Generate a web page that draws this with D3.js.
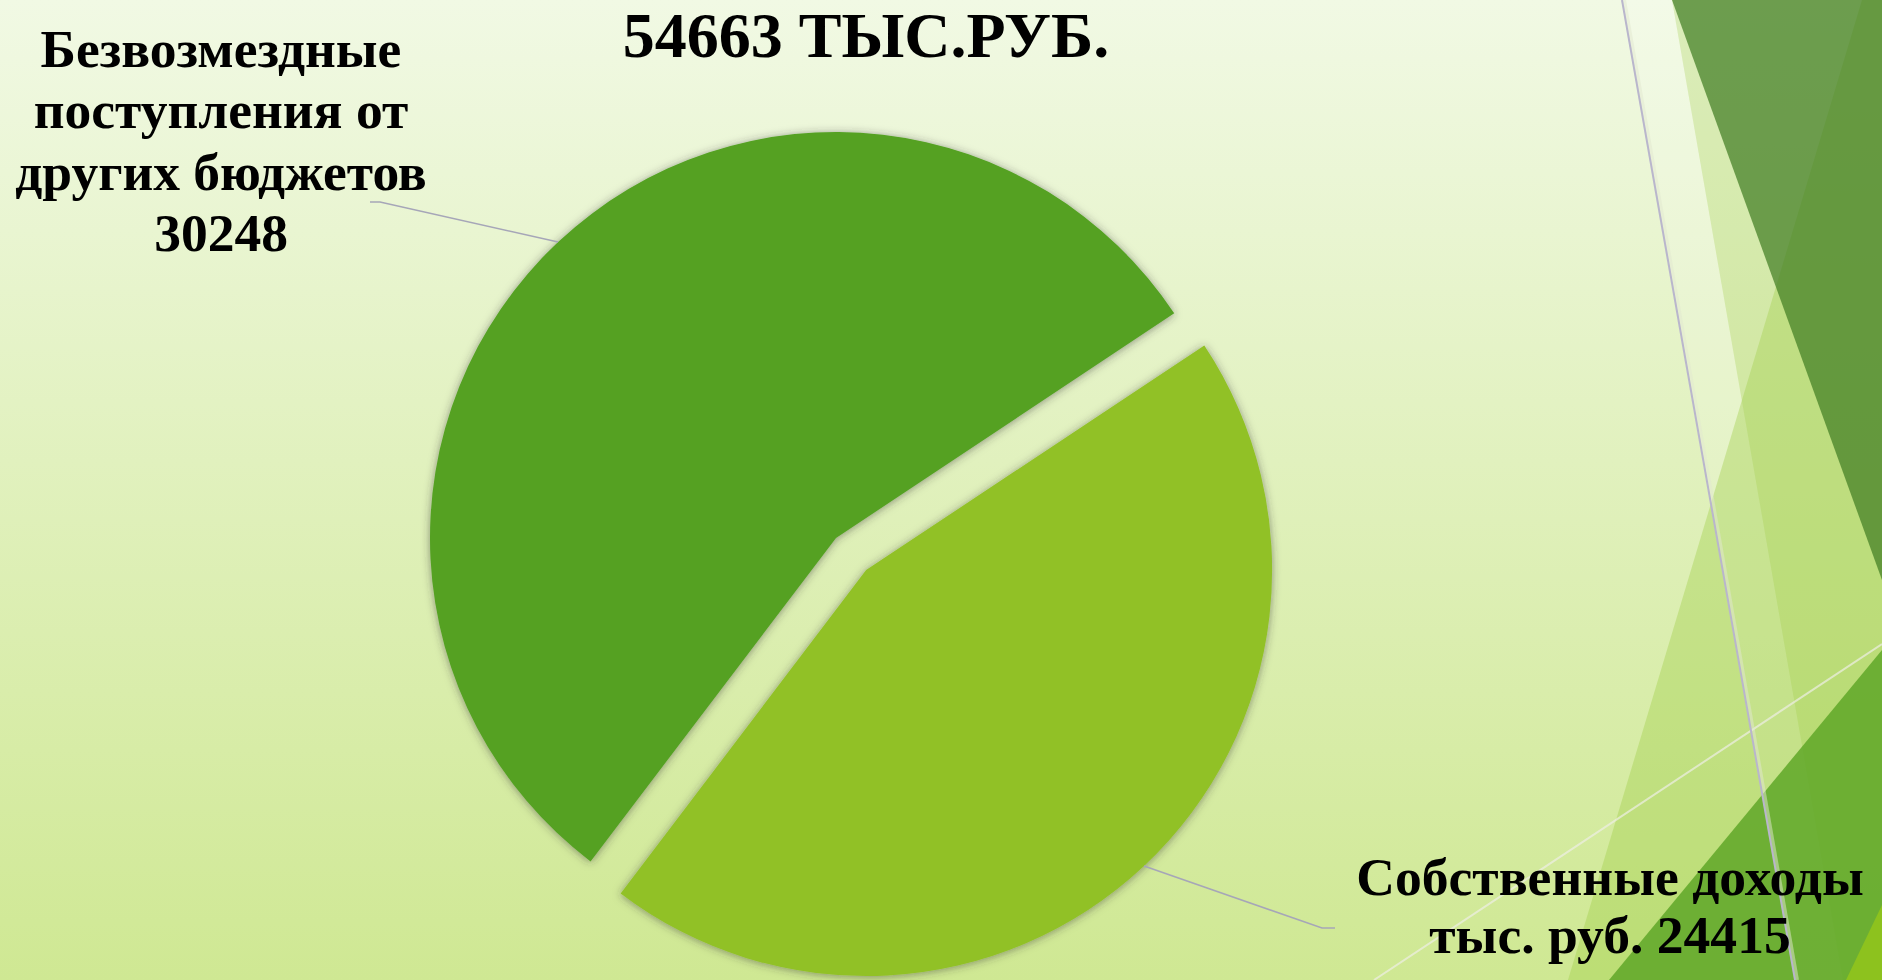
<!DOCTYPE html>
<html>
  <head>
    <meta charset='utf-8' />
    <title>Доходы бюджета</title>
    <style>
      html, body {
        margin: 0;
        padding: 0;
        overflow: hidden;
      }
      #chart text {
        font-family: "Liberation Serif", "Times New Roman", serif;
        font-weight: bold;
        fill: #000;
      }
    </style>
  </head>

<body>
  <svg id="chart" width="1882" height="980"></svg>

  <script src="https://d3js.org/d3.v7.min.js"></script>
  <script>
    // data
    const categories = ["Безвозмездные поступления от других бюджетов", "Собственные доходы"];
    const values = [30248, 24415];
    const labelLines = [
      ["Безвозмездные", "поступления от", "других бюджетов", "{v}"],
      ["Собственные доходы", "тыс. руб. {v}"]
    ];
    const titleUnit = "ТЫС.РУБ.";

    const w = 1882;
    const h = 980;
    const cx = 836, cy = 538;
    const radius = 406;
    const startDeg = 217.2;

    const svg = d3.select("#chart");
    const defs = svg.append("defs");

    // slide background
    const bg = defs.append("linearGradient")
      .attr("id", "bg")
      .attr("x1", 0).attr("y1", 0).attr("x2", 0).attr("y2", 1);
    bg.append("stop").attr("offset", "0%").attr("stop-color", "#f1f9e4");
    bg.append("stop").attr("offset", "100%").attr("stop-color", "#cfe893");

    const shadow = defs.append("filter")
      .attr("id", "shadow")
      .attr("x", "-10%").attr("y", "-10%")
      .attr("width", "120%").attr("height", "120%");
    shadow.append("feDropShadow")
      .attr("dx", 0).attr("dy", 1)
      .attr("stdDeviation", 4)
      .attr("flood-color", "#333333")
      .attr("flood-opacity", 0.5);

    svg.append("rect")
      .attr("width", w)
      .attr("height", h)
      .attr("fill", "url(#bg)");

    // theme decoration on the right side
    const deco = svg.append("g");
    const poly = (pts) => "M" + pts.map(p => p.join(",")).join("L") + "Z";

    deco.append("path").attr("d", poly([[1622, 0], [1672, 0], [1843, 980], [1795, 980]]))
      .attr("fill", "#ffffff").attr("opacity", 0.15);
    deco.append("path").attr("d", poly([[1862, 0], [1882, 0], [1882, 980], [1568, 980]]))
      .attr("fill", "#9dcc45").attr("opacity", 0.38);
    deco.append("path").attr("d", poly([[1672, 0], [1882, 0], [1882, 980], [1843, 980]]))
      .attr("fill", "#a8d15a").attr("opacity", 0.3);
    deco.append("path").attr("d", poly([[1672, 0], [1882, 0], [1882, 580]]))
      .attr("fill", "rgb(64,124,34)").attr("opacity", 0.71);
    deco.append("path").attr("d", poly([[1882, 650], [1882, 980], [1609, 980]]))
      .attr("fill", "rgb(95,167,40)").attr("opacity", 0.85);
    deco.append("path").attr("d", poly([[1882, 905], [1882, 980], [1846, 980]]))
      .attr("fill", "#8dc21e");
    deco.append("line")
      .attr("x1", 1374).attr("y1", 980).attr("x2", 1882).attr("y2", 644)
      .attr("stroke", "#eeeee6").attr("stroke-opacity", 0.7).attr("stroke-width", 2);
    deco.append("line")
      .attr("x1", 1624).attr("y1", 0).attr("x2", 1797).attr("y2", 980)
      .attr("stroke", "#e2e8cf").attr("stroke-width", 4).attr("stroke-opacity", 0.5);
    deco.append("line")
      .attr("x1", 1622).attr("y1", 0).attr("x2", 1795).attr("y2", 980)
      .attr("stroke", "#b9b6cc").attr("stroke-width", 2);

    // pie
    const pie = d3.pie()
      .sort(null)
      .startAngle(startDeg * Math.PI / 180)
      .endAngle(startDeg * Math.PI / 180 + 2 * Math.PI);

    const arcs = pie(values);

    const arc = d3.arc().innerRadius(0).outerRadius(radius);
    const rim = d3.arc().innerRadius(radius).outerRadius(radius);

    const color = d3.scaleOrdinal()
      .domain(categories)
      .range(["#54a122", "#91c126"]);

    // only the second slice is pulled out
    const explode = (i) => i === 1 ? 44 : 0;
    const offset = (d, i) => {
      const a = (d.startAngle + d.endAngle) / 2;
      return [explode(i) * Math.sin(a), -explode(i) * Math.cos(a)];
    };

    const slices = svg.append("g")
      .attr("transform", "translate(" + cx + "," + cy + ")");

    slices.selectAll("path")
      .data(arcs)
      .enter()
      .append("path")
      .attr("transform", (d, i) => "translate(" + offset(d, i) + ")")
      .attr("d", arc)
      .attr("fill", (d, i) => color(categories[i]))
      .attr("filter", "url(#shadow)");

    // leader lines and labels
    const elbows = [
      [[380, 202], [370, 202]],
      [[1322, 928], [1335, 928]]
    ];
    const labelPos = [
      { x: 221, y: 67, step: 61.3, size: 53.5 },
      { x: 1610, y: 895, step: 58, size: 53.6 }
    ];

    arcs.forEach((d, i) => {
      const o = offset(d, i);
      const p = rim.centroid(d);
      const start = [cx + o[0] + p[0], cy + o[1] + p[1]];
      svg.append("path")
        .attr("d", d3.line()([start].concat(elbows[i])))
        .attr("fill", "none")
        .attr("stroke", "#a6a6b8")
        .attr("stroke-width", 1.6);

      const t = svg.append("text")
        .attr("text-anchor", "middle")
        .style("font-size", labelPos[i].size + "px");
      labelLines[i].forEach((line, k) => {
        t.append("tspan")
          .attr("x", labelPos[i].x)
          .attr("y", labelPos[i].y + k * labelPos[i].step)
          .text(line.replace("{v}", values[i]));
      });
    });

    svg.append("text")
      .attr("x", 866)
      .attr("y", 57)
      .attr("text-anchor", "middle")
      .style("font-size", "64px")
      .text(d3.sum(values) + " " + titleUnit);
  </script>
</body>
</html>
